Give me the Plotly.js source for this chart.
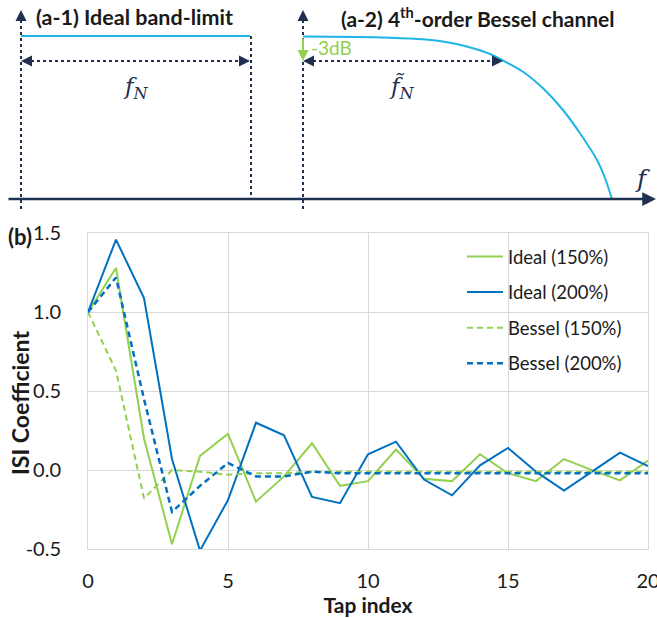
<!DOCTYPE html>
<html>
<head>
<meta charset="utf-8">
<script src="https://cdn.plot.ly/plotly-3.0.1.min.js"></script>
<style>html,body{margin:0;padding:0;background:#fff;}#chart{width:657px;height:618px;}</style>
</head>
<body>
<div id="chart"></div>
<script>
// ---- ISI coefficient data (panel b) ----
const tapIndex = [0,1,2,3,4,5,6,7,8,9,10,11,12,13,14,15,16,17,18,19,20];
const ideal150 = [1.00,1.28,0.20,-0.47,0.09,0.23,-0.20,-0.04,0.17,-0.10,-0.07,0.13,-0.055,-0.07,0.10,-0.02,-0.07,0.07,0.00,-0.065,0.06];
const ideal200 = [1.00,1.46,1.09,0.07,-0.51,-0.19,0.30,0.22,-0.17,-0.21,0.10,0.18,-0.06,-0.16,0.03,0.14,-0.01,-0.13,-0.01,0.11,0.025];
const bessel150 = [1.00,0.63,-0.18,0.00,-0.01,-0.03,-0.02,-0.02,-0.01,-0.01,-0.01,-0.01,-0.01,-0.01,-0.01,-0.01,-0.01,-0.01,-0.01,-0.01,-0.01];
const bessel200 = [1.00,1.22,0.45,-0.265,-0.10,0.045,-0.04,-0.04,-0.01,-0.02,-0.02,-0.02,-0.02,-0.02,-0.02,-0.02,-0.02,-0.02,-0.02,-0.02,-0.02];
const seriesNames = ["Ideal (150%)","Ideal (200%)","Bessel (150%)","Bessel (200%)"];
const xTicks = [0,5,10,15,20];
const yTicks = [-0.5,0,0.5,1.0,1.5];
const yTickText = ["-0.5","0.0","0.5","1.0","1.5"];

// ---- schematic (panel a), drawing units ----
const idealRespX = [21, 250];
const idealRespY = [36, 36];
const besselRespX = [303, 357, 390, 423, 450, 473, 490, 503, 523, 543, 563, 580, 597, 605, 612];
const besselRespY = [36.5, 37, 37.7, 39.3, 42.7, 48.3, 54, 60.5, 71.7, 88.3, 110, 133.3, 160, 178, 199];

const GREEN = '#92d050', BLUE = '#0070c0', LBLUE = '#1fb4e6', NAVY = '#1f3050';
const FONT = 'Lato, "Open Sans", sans-serif';
const TXT = '#1a1a1a';
const DASH = '6px,4px';

const traces = [
  {x: tapIndex, y: ideal150, name: seriesNames[0], mode: 'lines', line: {color: GREEN, width: 2}, legendgroup: 'a'},
  {x: tapIndex, y: ideal200, name: seriesNames[1], mode: 'lines', line: {color: BLUE, width: 2}, legendgroup: 'b'},
  {x: tapIndex, y: bessel150, name: seriesNames[2], mode: 'lines', line: {color: GREEN, width: 2, dash: DASH}, legendgroup: 'c'},
  {x: tapIndex, y: bessel200, name: seriesNames[3], mode: 'lines', line: {color: BLUE, width: 2.5, dash: DASH}, legendgroup: 'd'},
  {x: idealRespX, y: idealRespY, xaxis: 'x2', yaxis: 'y2', mode: 'lines', line: {color: LBLUE, width: 2}, showlegend: false, hoverinfo: 'skip'},
  {x: besselRespX, y: besselRespY, xaxis: 'x2', yaxis: 'y2', mode: 'lines', line: {color: LBLUE, width: 2, shape: 'spline', smoothing: 0.6}, showlegend: false, hoverinfo: 'skip'}
];

function dotLine(x0,y0,x1,y1){
  return {type:'line', xref:'x2', yref:'y2', x0:x0, y0:y0, x1:x1, y1:y1, line:{color:NAVY, width:2, dash:'dot'}};
}
function head(x,y,ax,ay,color){
  return {x:x, y:y, ax:ax, ay:ay, xref:'x2', yref:'y2', axref:'x2', ayref:'y2', text:'', showarrow:true,
          arrowhead:2, arrowsize:1.1, arrowwidth:2, arrowcolor:color||NAVY};
}

const shapes = [
  dotLine(21, 209, 21, 16),
  dotLine(251, 36, 251, 199),
  dotLine(25, 61, 246, 61),
  dotLine(303, 209, 303, 16),
  dotLine(307, 61, 499, 61)
];

const annotations = [
  {x: 656, y: 199, ax: 7, ay: 199, xref:'x2', yref:'y2', axref:'x2', ayref:'y2', text:'', showarrow:true, arrowhead:2, arrowsize:1.1, arrowwidth:2.5, arrowcolor: NAVY},
  head(21, 10, 21, 20),
  head(303, 10, 303, 20),
  head(21, 61, 31, 61),
  head(250, 61, 240, 61),
  head(303, 61, 313, 61),
  head(503, 61, 493, 61),
  {x: 303, y: 61, ax: 303, ay: 37, xref:'x2', yref:'y2', axref:'x2', ayref:'y2', text:'', showarrow:true, arrowhead:2, arrowsize:1.1, arrowwidth:2, arrowcolor: GREEN},
  {x: 309, y: 47, xref:'x2', yref:'y2', text:'-3dB', showarrow:false, xanchor:'left', yanchor:'middle', font:{family:FONT, size:19, color:GREEN}},
  {x: 34, y: 17, xref:'x2', yref:'y2', text:'<b>(a-1) Ideal band-limit</b>', showarrow:false, xanchor:'left', yanchor:'middle', font:{family:FONT, size:21.5, color:TXT}},
  {x: 339, y: 17, xref:'x2', yref:'y2', text:'<b>(a-2) 4<sup>th</sup>-order Bessel channel</b>', showarrow:false, xanchor:'left', yanchor:'middle', font:{family:FONT, size:21, color:TXT}},
  {x: 136, y: 88, xref:'x2', yref:'y2', text:'<i>f</i><sub><i>N</i></sub>', showarrow:false, xanchor:'center', yanchor:'middle', font:{family:'"DejaVu Serif", serif', size:23, color:NAVY}},
  {x: 402, y: 88, xref:'x2', yref:'y2', text:'<i>f&#771;</i><sub><i>N</i></sub>', showarrow:false, xanchor:'center', yanchor:'middle', font:{family:'"DejaVu Serif", serif', size:23, color:NAVY}},
  {x: 642, y: 178, xref:'x2', yref:'y2', text:'<i>f</i>', showarrow:false, xanchor:'center', yanchor:'middle', font:{family:'"DejaVu Serif", serif', size:25, color:NAVY}},
  {x: 6/657, y: 1-236/618, xref:'paper', yref:'paper', text:'<b>(b)</b>', showarrow:false, xanchor:'left', yanchor:'middle', font:{family:FONT, size:22, color:TXT}},
  {x: 20/657, y: 1-403/618, xref:'paper', yref:'paper', text:'<b>ISI Coefficient</b>', textangle:-90, showarrow:false, xanchor:'center', yanchor:'middle', font:{family:FONT, size:23, color:TXT}}
];

const layout = {
  width: 657, height: 618,
  margin: {l:0, r:0, t:0, b:0},
  paper_bgcolor: '#fff', plot_bgcolor: '#fff',
  font: {family: FONT, size: 20, color: TXT},
  showlegend: true,
  legend: {x: 462/657, y: 1-238/618, xanchor:'left', yanchor:'top', bgcolor:'rgba(0,0,0,0)', font:{family:FONT, size:18.5, color:TXT}, tracegroupgap: 8.5, itemwidth: 36},
  xaxis: {domain:[88/657, 648/657], range:[0,20], tickvals: xTicks, showgrid:true, gridcolor:'#d9d9d9', gridwidth:1,
          zeroline:false, showline:true, mirror:true, linecolor:'#d9d9d9', linewidth:1, ticks:'', ticklabelstandoff: 14,
          ticklabeloverflow: 'allow', tickfont:{family:FONT, size:20, color:TXT}, anchor:'y',
          title:{text:'<b>Tap index</b>', font:{family:FONT, size:21, color:TXT}, standoff: 2}},
  yaxis: {domain:[1-549/618, 1-233.3/618], range:[-0.5,1.5], tickvals: yTicks, ticktext: yTickText, showgrid:true, gridcolor:'#d9d9d9', gridwidth:1,
          zeroline:false, showline:true, mirror:true, linecolor:'#d9d9d9', linewidth:1, ticks:'', ticklabelstandoff: 22,
          tickfont:{family:FONT, size:20, color:TXT}, anchor:'x'},
  xaxis2: {domain:[0,1], range:[0,657], visible:false, fixedrange:true, anchor:'y2'},
  yaxis2: {domain:[1-210/618, 1], range:[210,0], visible:false, fixedrange:true, anchor:'x2'},
  shapes: shapes,
  annotations: annotations
};

Plotly.newPlot('chart', traces, layout, {displayModeBar:false, staticPlot:true});
</script>
</body>
</html>
